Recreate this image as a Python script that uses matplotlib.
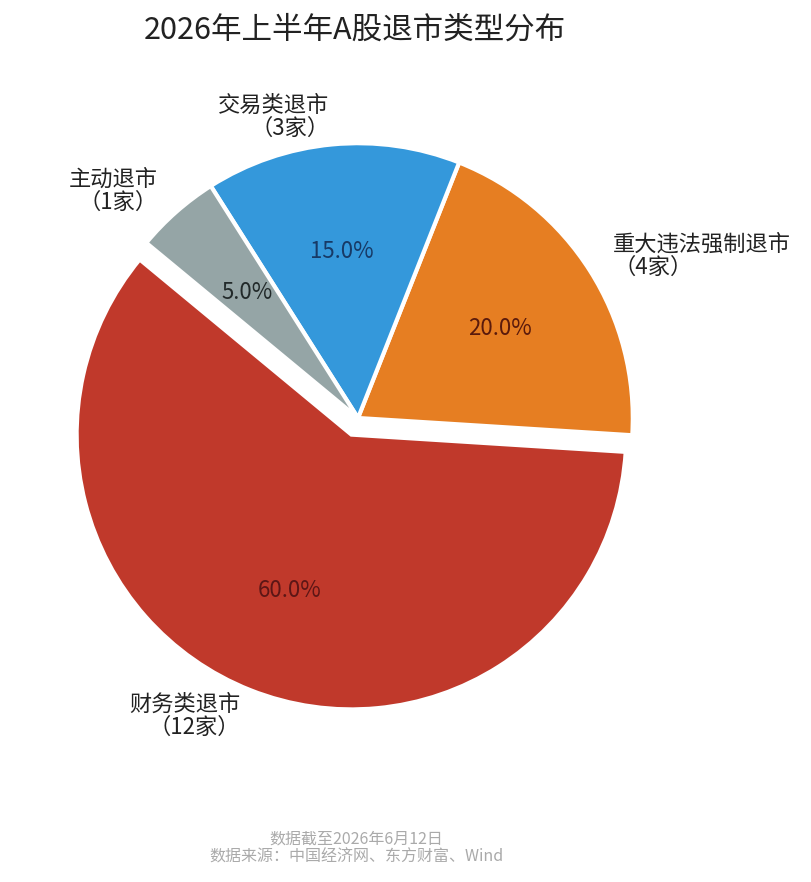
#!/usr/bin/env python3
"""2026年上半年A股退市类型分布 pie chart."""

import matplotlib

matplotlib.use("Agg")
import matplotlib.pyplot as plt

plt.rcParams["font.family"] = ["Noto Sans CJK SC", "DejaVu Sans"]

# data
categories = ["财务类退市", "重大违法强制退市", "交易类退市", "主动退市"]
counts = [12, 4, 3, 1]
colors = ["#c0392b", "#e67e22", "#3498db", "#95a5a6"]
pct_colors = ["#5c1616", "#5a1a0c", "#173a66", "#222a2a"]
explode = [0.065, 0.0, 0.0, 0.0]

labels = [f"{name}\n（{n}家）" for name, n in zip(categories, counts)]

fig = plt.figure(figsize=(8.12, 8.82), dpi=100)
ax = fig.add_axes([14.5 / 812, 120.5 / 882, 687 / 812, 687 / 882])

wedges, texts, autotexts = ax.pie(
    counts,
    labels=labels,
    colors=colors,
    explode=explode,
    startangle=140.4,
    counterclock=True,
    autopct="%.1f%%",
    pctdistance=0.61,
    labeldistance=1.1,
    wedgeprops={"edgecolor": "white", "linewidth": 3},
    textprops={"fontsize": 16, "color": "#222222"},
)
for text, c in zip(autotexts, pct_colors):
    text.set_color(c)
    text.set_fontsize(16)
for text in texts:
    text.set_linespacing(1.0)
ax.set_xlim(-1.25, 1.25)
ax.set_ylim(-1.25, 1.25)
ax.set_aspect("equal")

fig.text(355 / 812, 1 - 30 / 882, "2026年上半年A股退市类型分布",
         ha="center", va="center", fontsize=22, color="#222222")
fig.text(356 / 812, 1 - 848 / 882, "数据截至2026年6月12日\n数据来源：中国经济网、东方财富、Wind",
         ha="center", va="center", fontsize=11.5, color="#aaaaaa", linespacing=1.15)

fig.savefig("out.png", dpi=100, facecolor="white")
